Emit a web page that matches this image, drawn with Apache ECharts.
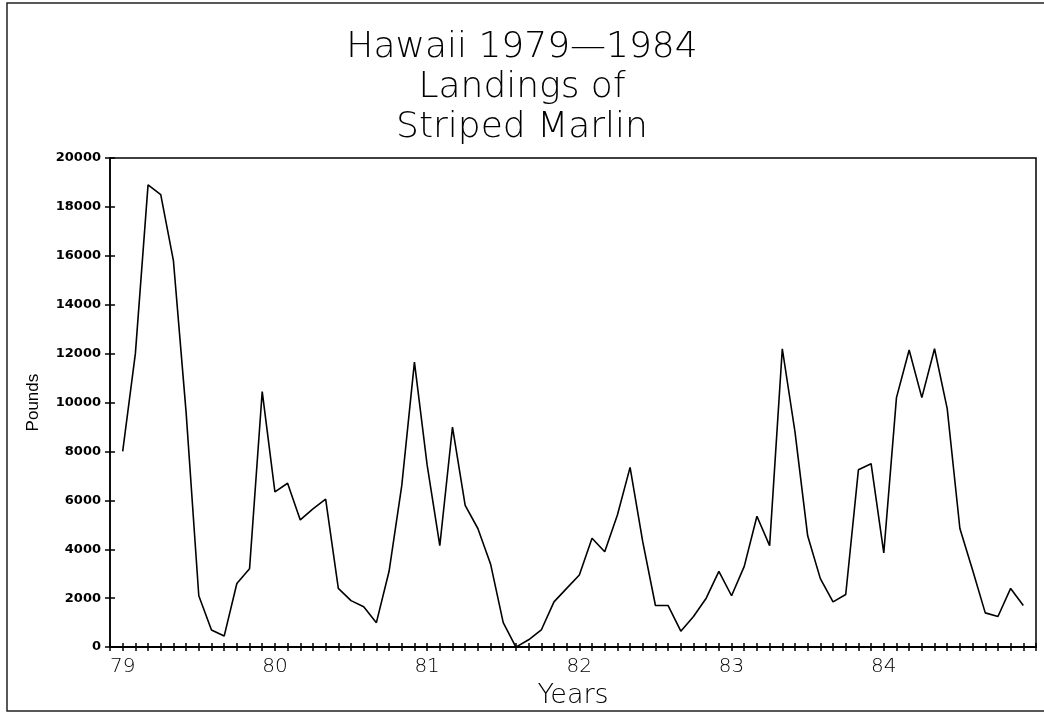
<!DOCTYPE html>
<html>
<head>
<meta charset="utf-8">
<script src="https://cdn.jsdelivr.net/npm/echarts@6/dist/echarts.min.js"></script>
<style>
  html, body { margin: 0; padding: 0; background: #fff; }
  #chart { width: 1044px; height: 714px; }
</style>
</head>
<body>
<div id="chart"></div>
<script>
// monthly landings (pounds), Jan..Dec
const years = ['79', '80', '81', '82', '83', '84']
const pounds79 = [8000, 12000, 18900, 18500, 15800, 9600, 2100, 700, 450, 2600, 3200, 10450]
const pounds80 = [6350, 6700, 5200, 5650, 6050, 2400, 1900, 1650, 1000, 3100, 6600, 11650]
const pounds81 = [7450, 4150, 9000, 5800, 4850, 3400, 1000, 0, 300, 700, 1850, 2400]
const pounds82 = [2950, 4450, 3900, 5400, 7350, 4300, 1700, 1700, 650, 1250, 2000, 3100]
const pounds83 = [2100, 3300, 5350, 4150, 12200, 8800, 4550, 2800, 1850, 2150, 7250, 7500]
const pounds84 = [3850, 10200, 12150, 10200, 12200, 9750, 4850, 3150, 1400, 1250, 2400, 1700]
const yTicks = { min: 0, max: 20000, step: 2000 }

const allPounds = [].concat(pounds79, pounds80, pounds81, pounds82, pounds83, pounds84)

// one empty slot at each end so the first/last month sits a month in from the frame
const months = ['start']
years.forEach(y => {
  for (let m = 1; m <= 12; m++) months.push(y + '-' + m)
})
months.push('end')
const values = [null].concat(allPounds, [null])

const chart = echarts.init(document.getElementById('chart'))

const baseX = {
  type: 'category',
  data: months,
  boundaryGap: false,
  position: 'bottom',
  splitLine: { show: false }
}

const option = {
  backgroundColor: '#fff',
  animation: false,
  title: {
    text: 'Hawaii 1979\u20141984\nLandings of\nStriped Marlin',
    left: 'center',
    top: 23,
    textStyle: {
      fontFamily: 'DejaVu Sans',
      fontWeight: 200,
      fontSize: 36,
      lineHeight: 40,
      color: '#000'
    }
  },
  grid: {
    left: 110,
    right: 8,
    top: 158,
    bottom: 65,
    show: true,
    borderColor: '#000',
    borderWidth: 1.5,
    backgroundColor: 'transparent'
  },
  graphic: [
    {
      type: 'rect',
      shape: { x: 7, y: 3, width: 1060, height: 708 },
      style: { fill: 'none', stroke: '#222', lineWidth: 1.5 },
      silent: true
    }
  ],
  xAxis: [
    Object.assign({}, baseX, {
      name: 'Years',
      nameLocation: 'middle',
      nameGap: 29,
      nameTextStyle: { fontFamily: 'DejaVu Sans', fontWeight: 200, fontSize: 27, color: '#000' },
      axisLine: { lineStyle: { color: '#000', width: 2 } },
      axisTick: { show: true, interval: 0, length: 4, lineStyle: { color: '#000', width: 1.5 } },
      axisLabel: {
        interval: (i) => i > 0 && i < months.length - 1 && (i - 1) % 12 === 0,
        formatter: (v) => v.split('-')[0],
        margin: 10,
        fontFamily: 'DejaVu Sans',
        fontWeight: 200,
        fontSize: 20,
        color: '#000'
      }
    }),
    Object.assign({}, baseX, {
      axisLine: { show: false },
      axisTick: { show: true, inside: true, interval: 0, length: 4, lineStyle: { color: '#000', width: 1.5 } },
      axisLabel: { show: false }
    })
  ],
  yAxis: [
    {
      type: 'value',
      min: yTicks.min,
      max: yTicks.max,
      interval: yTicks.step,
      name: 'Pounds',
      nameLocation: 'middle',
      nameGap: 68,
      nameTextStyle: { fontFamily: 'Liberation Sans', fontSize: 17, color: '#000' },
      splitLine: { show: false },
      axisLine: { show: true, lineStyle: { color: '#000', width: 1.5 } },
      axisTick: { show: true, length: 5, lineStyle: { color: '#000', width: 1.5 } },
      axisLabel: {
        formatter: (v) => String(v),
        margin: 9,
        fontFamily: 'DejaVu Sans',
        fontWeight: 'bold',
        fontSize: 13,
        color: '#000'
      }
    },
    {
      type: 'value',
      position: 'left',
      min: yTicks.min,
      max: yTicks.max,
      interval: yTicks.step,
      splitLine: { show: false },
      axisLine: { show: false },
      axisTick: { show: true, inside: true, length: 5, lineStyle: { color: '#000', width: 1.5 } },
      axisLabel: { show: false }
    }
  ],
  series: [
    {
      name: 'Landings',
      type: 'line',
      data: values,
      xAxisIndex: 0,
      yAxisIndex: 0,
      showSymbol: false,
      symbol: 'none',
      lineStyle: { color: '#000', width: 1.6 }
    }
  ]
}

chart.setOption(option)
</script>
</body>
</html>
